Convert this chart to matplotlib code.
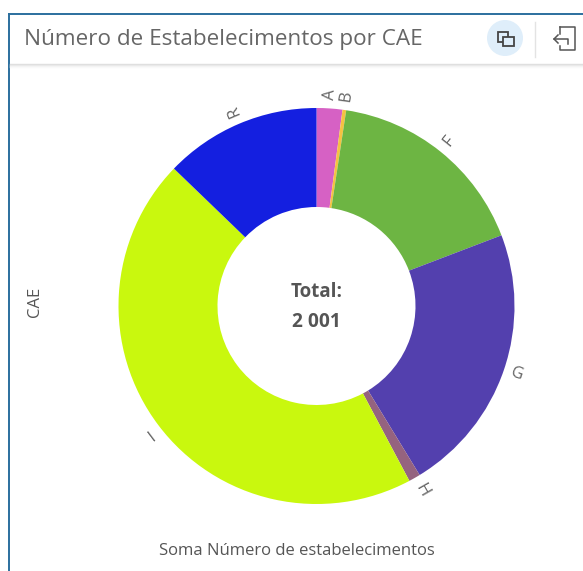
import matplotlib
matplotlib.use('Agg')
import matplotlib.pyplot as plt
from matplotlib.patches import Circle, Rectangle
import numpy as np

# valores (total 2001)
cae = ['A', 'B', 'F', 'G', 'H', 'I', 'R']
estabelecimentos = [42, 6, 336, 442, 19, 900, 256]
cores = ['#d661c4', '#f5c242', '#6db543', '#5340ae', '#95637f', '#c9f80e', '#141fe0']

plt.rcParams['font.family'] = ['Open Sans', 'DejaVu Sans']

W, H = 583, 571
fig = plt.figure(figsize=(W/100, H/100), dpi=100, facecolor='white')

# moldura e cabecalho em pixeis
bg = fig.add_axes([0, 0, 1, 1])
bg.set_xlim(0, W)
bg.set_ylim(H, 0)
bg.axis('off')
bg.plot([9, 9], [14, H], color='#2b6f9e', lw=1.4)
bg.plot([9, W], [14, 14], color='#2b6f9e', lw=1.4)
for i, c in enumerate(['#dddddd', '#e8e8e8', '#f2f2f2', '#f9f9f9']):
    bg.plot([10, W], [64+i, 64+i], color=c, lw=1)
bg.text(24, 40, 'Número de Estabelecimentos por CAE', fontsize=16.2, color='#666666', va='center')
bg.add_patch(Circle((505, 38), 18, fc='#dfeefa', ec='none'))
bg.add_patch(Rectangle((498, 32), 10, 10, fc='none', ec='#444444', lw=1.3))
bg.add_patch(Rectangle((503, 37), 11, 9, fc='#dfeefa', ec='#444444', lw=1.3))
bg.plot([535, 535], [22, 57], color='#e3e3e3', lw=1)
bg.plot([560, 575, 575, 560, 560], [27, 27, 50, 50, 46], color='#555555', lw=1.1)
bg.plot([560, 560], [27, 34], color='#555555', lw=1.1)
bg.plot([554, 568, 568], [39, 39, 44], color='#555555', lw=1.1)
bg.plot([558, 554, 558], [35, 39, 43], color='#555555', lw=1.1)

bg.text(35, 302, 'CAE', fontsize=12, color='#555555', rotation=90, ha='center', va='center')
bg.text(297, 551, 'Soma Número de estabelecimentos', fontsize=12, color='#555555', ha='center', va='center')

# donut
cx, cy, R = 316.5, 306, 198
ax = fig.add_axes([(cx-R)/W, 1-(cy+R)/H, 2*R/W, 2*R/H])
wedges, _ = ax.pie(estabelecimentos, colors=cores, startangle=90, counterclock=False,
                   radius=1, wedgeprops=dict(width=0.5, linewidth=0))
ax.set_xlim(-1, 1)
ax.set_ylim(-1, 1)
ax.set_aspect('equal')
ax.patch.set_alpha(0)

for w, nome in zip(wedges, cae):
    ang = (w.theta1 + w.theta2) / 2
    x = 1.07*np.cos(np.radians(ang))
    y = 1.07*np.sin(np.radians(ang))
    ax.text(x, y, nome, rotation=ang, rotation_mode='anchor', ha='center', va='center',
            fontsize=12, color='#666666', clip_on=False)

ax.text(0, 0.07, 'Total:', fontsize=13.5, fontweight='bold', color='#555555', ha='center', va='center')
ax.text(0, -0.08, '2 001', fontsize=13.8, fontweight='bold', color='#555555', ha='center', va='center')

fig.savefig('out.png', dpi=100)
